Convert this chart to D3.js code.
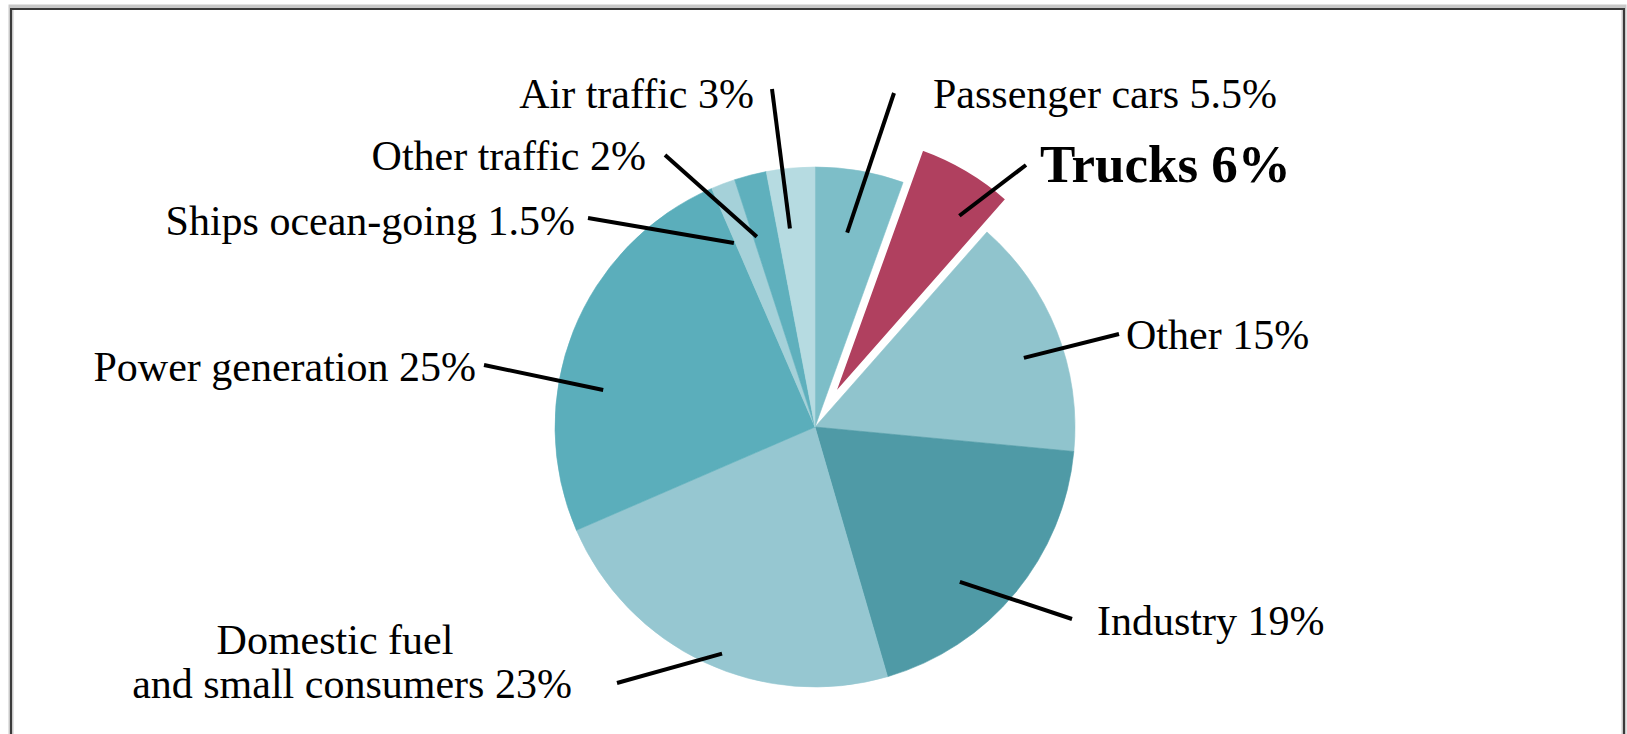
<!DOCTYPE html>
<html>
<head>
<meta charset="utf-8">
<script src="https://cdn.jsdelivr.net/npm/d3@7"></script>
<style>
  body { margin: 0; background: #fff; }
  text { font-family: "Liberation Serif", "Times New Roman", serif; fill: #000; }
</style>
</head>
<body>
<div id="chart"></div>
<script>
// Chart data
let categories = ['Passenger cars', 'Trucks', 'Other', 'Industry', 'Domestic fuel and small consumers',
    'Power generation', 'Ships ocean-going', 'Other traffic', 'Air traffic'];
let shares = [5.5, 6, 15, 19, 23, 25, 1.5, 2, 3];
let shareLabels = ['5.5%', '6%', '15%', '19%', '23%', '25%', '1.5%', '2%', '3%'];
let sliceColors = ['#7dbec8', '#b0405f', '#90c4cd', '#4f9aa6', '#96c7d1', '#5baebb', '#a5d1d9', '#5fb0bd', '#b6dbe1'];

// Svg size and pie geometry
let svgWidth = 1627;
let svgHeight = 734;
let pieCenter = { x: 815, y: 427 };
let pieRadius = 260;
let explodeIndex = 1;
let explodeDistance = 38;

// Label placement (text anchor point, leader outer end, leader inner end in polar deg / px)
let labelLayout = [
    { x: 933, y: 108, anchor: 'start', lx: 894, ly: 93, la: 9.4, lr: 197 },
    { x: 1040, y: 182, anchor: 'start', lx: 1026, ly: 165, la: 35, lr: 218, bold: true },
    { x: 1126, y: 349, anchor: 'start', lx: 1119, ly: 334, la: 71.7, lr: 220 },
    { x: 1097, y: 635, anchor: 'start', lx: 1072, ly: 619, la: 136.9, lr: 212 },
    { x: 344, y: 654, anchor: 'middle', lx: 617, ly: 683, la: 202.3, lr: 245,
      lines: [{ text: 'Domestic fuel', dx: -9, dy: 0 }, { text: 'and small consumers 23%', dx: 8, dy: 44 }] },
    { x: 476, y: 381, anchor: 'end', lx: 484, ly: 365, la: 279.9, lr: 215 },
    { x: 575, y: 235, anchor: 'end', lx: 588, ly: 218, la: 336.2, lr: 201 },
    { x: 646, y: 170, anchor: 'end', lx: 665, ly: 155, la: 343, lr: 199 },
    { x: 754, y: 108, anchor: 'end', lx: 772, ly: 89, la: 352.8, lr: 200 }
];

let svg = d3.select('#chart').append('svg')
    .attr('width', svgWidth)
    .attr('height', svgHeight);

// Frame round the picture (bottom edge cut off)
svg.append('path')
    .attr('d', `M11,${svgHeight} V7 H1624 V${svgHeight}`)
    .attr('fill', 'none')
    .attr('stroke', '#c8c8c8')
    .attr('stroke-width', 5);
svg.append('path')
    .attr('d', `M11,${svgHeight} V9 H1624 V${svgHeight}`)
    .attr('fill', 'none')
    .attr('stroke', '#3a3a3a')
    .attr('stroke-width', 2);

let pie = d3.pie().sort(null).value(d => d.value);
let arc = d3.arc().innerRadius(0).outerRadius(pieRadius);
let pieData = pie(categories.map((c, i) => ({ name: c, value: shares[i], color: sliceColors[i] })));

let chart = svg.append('g')
    .attr('transform', `translate(${pieCenter.x}, ${pieCenter.y})`);

// Offset for exploded slice
function sliceOffset(d, i) {
    if (i !== explodeIndex) return [0, 0];
    let mid = (d.startAngle + d.endAngle) / 2;
    return [Math.sin(mid) * explodeDistance, -Math.cos(mid) * explodeDistance];
}

chart.selectAll('path.slice')
    .data(pieData).enter()
    .append('path')
    .attr('class', 'slice')
    .attr('d', arc)
    .attr('fill', d => d.data.color)
    .attr('stroke', (d, i) => i === explodeIndex ? '#fff' : d.data.color)
    .attr('stroke-width', (d, i) => i === explodeIndex ? 2 : 0.6)
    .attr('transform', (d, i) => `translate(${sliceOffset(d, i)})`);

// Leader lines
let leaders = svg.append('g');
pieData.forEach((d, i) => {
    let lay = labelLayout[i];
    let off = sliceOffset(d, i);
    let a = lay.la * Math.PI / 180;
    let ix = pieCenter.x + off[0] + Math.sin(a) * lay.lr;
    let iy = pieCenter.y + off[1] - Math.cos(a) * lay.lr;
    leaders.append('line')
        .attr('x1', lay.lx).attr('y1', lay.ly)
        .attr('x2', ix).attr('y2', iy)
        .attr('stroke', '#000')
        .attr('stroke-width', 4);
});

// Labels
let labels = svg.append('g');
pieData.forEach((d, i) => {
    let lay = labelLayout[i];
    let txt = labels.append('text')
        .attr('x', lay.x)
        .attr('y', lay.y)
        .attr('text-anchor', lay.anchor)
        .style('font-size', lay.bold ? '53px' : '42px')
        .style('font-weight', lay.bold ? 'bold' : 'normal');
    if (lay.lines) {
        lay.lines.forEach(l => {
            txt.append('tspan')
                .attr('x', lay.x + l.dx)
                .attr('y', lay.y + l.dy)
                .text(l.text);
        });
    } else {
        txt.text(`${d.data.name} ${shareLabels[i]}`);
    }
});
</script>
</body>
</html>
